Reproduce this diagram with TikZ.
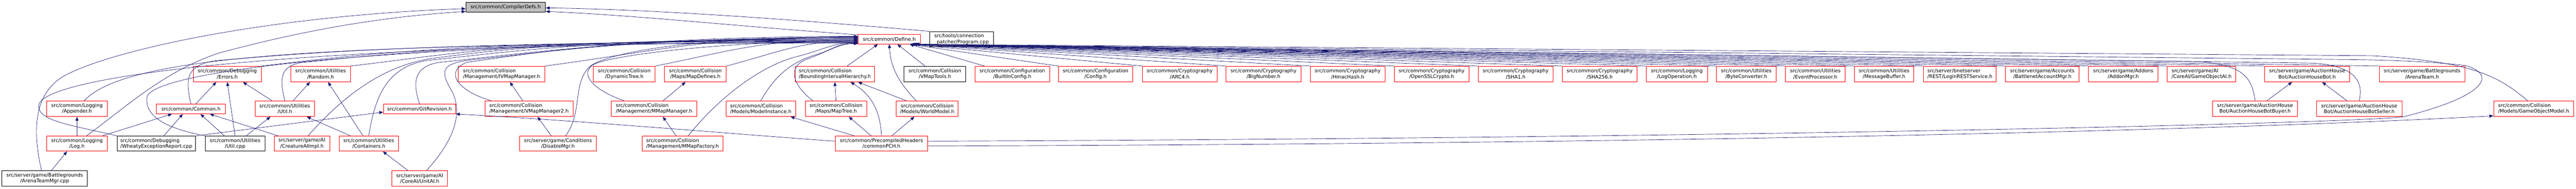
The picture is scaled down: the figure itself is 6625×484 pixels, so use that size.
\documentclass[tikz,border=0pt]{standalone}
\usepackage{fontspec}
\usetikzlibrary{arrows.meta}
\newfontfamily\graphfont{DejaVu Sans}
\definecolor{edgeblue}{RGB}{25,25,112}
\definecolor{rootgray}{RGB}{191,191,191}
\def\lbl{\graphfont\fontsize{12.7}{15}\selectfont}
\tikzset{
  cutfile/.style={draw=red, line width=1.1pt, inner sep=0pt, minimum height=40pt, font=\lbl, align=center},
  endfile/.style={cutfile, draw=black},
  rootfile/.style={endfile, fill=rootgray, minimum height=25pt},
  inc/.style={draw=edgeblue, line width=0.9pt, -{Triangle[length=10pt,width=8pt]}},
}
\begin{document}
\begin{tikzpicture}[x=1pt,y=-1pt]
%%%%% FRAME %%%%%
\path[fill=white, use as bounding box] (0,0) rectangle (6625,484);

%%%%% ROW 0 AND 1 %%%%%
\node[rootfile, minimum width=205pt] (cd) at (1300.5,18.5) {src/common/CompilerDefs.h};
\node[cutfile, minimum width=160pt, minimum height=25pt] (def) at (2287,100.5) {src/common/Define.h};
\node[endfile, minimum width=164pt, minimum height=39pt, align=left] (prog) at (2473,100.5) {src/tools/connection\\\_patcher/Program.cpp};

%%%%% ROW 2 %%%%%
\node[cutfile, minimum width=175pt] (errors) at (584.5,190) {src/common/Debugging\\/Errors.h};
\node[cutfile, minimum width=153pt] (random) at (824.5,190) {src/common/Utilities\\/Random.h};
\node[cutfile, minimum width=222pt, align=left] (ivmap) at (1290,190) {src/common/Collision\\/Management/IVMapManager.h};
\node[cutfile, minimum width=159pt] (dyntree) at (1605.5,190) {src/common/Collision\\/DynamicTree.h};
\node[cutfile, minimum width=159pt] (mapdef) at (1788.5,190) {src/common/Collision\\/Maps/MapDefines.h};
\node[cutfile, minimum width=204pt, align=left] (bih) at (2147,190) {src/common/Collision\\/BoundingIntervalHierarchy.h};
\node[endfile, minimum width=159pt] (vmaptools) at (2404.5,190) {src/common/Collision\\/VMapTools.h};
\node[cutfile, minimum width=191pt] (builtin) at (2603.5,190) {src/common/Configuration\\/BuiltInConfig.h};
\node[cutfile, minimum width=191pt] (config) at (2817.5,190) {src/common/Configuration\\/Config.h};
\node[cutfile, minimum width=192pt] (arc4) at (3034,190) {src/common/Cryptography\\/ARC4.h};
\node[cutfile, minimum width=193pt] (bignum) at (3249.5,190) {src/common/Cryptography\\/BigNumber.h};
\node[cutfile, minimum width=192pt] (hmac) at (3466,190) {src/common/Cryptography\\/HmacHash.h};
\node[cutfile, minimum width=192pt] (openssl) at (3682,190) {src/common/Cryptography\\/OpenSSLCrypto.h};
\node[cutfile, minimum width=192pt] (sha1) at (3898,190) {src/common/Cryptography\\/SHA1.h};
\node[cutfile, minimum width=192pt] (sha256) at (4114,190) {src/common/Cryptography\\/SHA256.h};
\node[cutfile, minimum width=157pt] (logop) at (4312.5,190) {src/common/Logging\\/LogOperation.h};
\node[cutfile, minimum width=154pt] (byteconv) at (4491,190) {src/common/Utilities\\/ByteConverter.h};
\node[cutfile, minimum width=153pt] (eventproc) at (4668.5,190) {src/common/Utilities\\/EventProcessor.h};
\node[cutfile, minimum width=153pt] (msgbuf) at (4845.5,190) {src/common/Utilities\\/MessageBuffer.h};
\node[cutfile, minimum width=187pt, align=left] (loginrest) at (5040.5,190) {src/server/bnetserver\\/REST/LoginRESTService.h};
\node[cutfile, minimum width=189pt] (bnetacc) at (5252.5,190) {src/server/game/Accounts\\/BattlenetAccountMgr.h};
\node[cutfile, minimum width=179pt] (addon) at (5460.5,190) {src/server/game/Addons\\/AddonMgr.h};
\node[cutfile, minimum width=176pt, align=left] (goai) at (5662,190) {src/server/game/AI\\/CoreAI/GameObjectAI.h};
\node[cutfile, minimum width=219pt] (ahbot) at (5933.5,190) {src/server/game/AuctionHouse\\Bot/AuctionHouseBot.h};
\node[cutfile, minimum width=220pt] (arenateam) at (6229,190) {src/server/game/Battlegrounds\\/ArenaTeam.h};

%%%%% ROW 3 %%%%%
\node[cutfile, minimum width=156pt] (appender) at (198,279) {src/common/Logging\\/Appender.h};
\node[cutfile, minimum width=178pt, minimum height=25pt] (common) at (491,279.5) {src/common/Common.h};
\node[cutfile, minimum width=153pt] (utilh) at (732.5,279) {src/common/Utilities\\/Util.h};
\node[cutfile, minimum width=186pt, minimum height=25pt] (gitrev) at (1079,279.5) {src/common/GitRevision.h};
\node[cutfile, minimum width=227pt, align=left] (vmap2) at (1360.5,279) {src/common/Collision\\/Management/VMapManager2.h};
\node[cutfile, minimum width=220pt, align=left] (mmapmgr) at (1682,279) {src/common/Collision\\/Management/MMapManager.h};
\node[cutfile, minimum width=179pt, align=left] (modelinst) at (1956.5,279) {src/common/Collision\\/Models/ModelInstance.h};
\node[cutfile, minimum width=158pt] (maptree) at (2150,279) {src/common/Collision\\/Maps/MapTree.h};
\node[cutfile, minimum width=159pt] (worldmodel) at (2384.5,279) {src/common/Collision\\/Models/WorldModel.h};
\node[cutfile, minimum width=219pt] (ahbuyer) at (5799.5,279) {src/server/game/AuctionHouse\\Bot/AuctionHouseBotBuyer.h};
\node[cutfile, minimum width=219pt] (ahseller) at (6067.5,279) {src/server/game/AuctionHouse\\Bot/AuctionHouseBotSeller.h};
\node[cutfile, minimum width=206pt, align=left] (gomodel) at (6516,279) {src/common/Collision\\/Models/GameObjectModel.h};

%%%%% ROW 4 %%%%%
\node[cutfile, minimum width=156pt, minimum height=39pt] (log) at (198,368.5) {src/common/Logging\\/Log.h};
\node[endfile, minimum width=202pt, minimum height=39pt, align=left] (wheaty) at (402,368.5) {src/common/Debugging\\/WheatyExceptionReport.cpp};
\node[endfile, minimum width=153pt, minimum height=39pt] (utilcpp) at (604.5,368.5) {src/common/Utilities\\/Util.cpp};
\node[cutfile, minimum width=143pt, minimum height=39pt] (creatureai) at (776.5,368.5) {src/server/game/AI\\/CreatureAIImpl.h};
\node[cutfile, minimum width=153pt, minimum height=39pt] (containers) at (948.5,368.5) {src/common/Utilities\\/Containers.h};
\node[cutfile, minimum width=198pt, minimum height=39pt] (disable) at (1435,368.5) {src/server/game/Conditions\\/DisableMgr.h};
\node[cutfile, minimum width=209pt, minimum height=39pt, align=left] (mmapfac) at (1755.5,368.5) {src/common/Collision\\/Management/MMapFactory.h};
\node[cutfile, minimum width=238pt, minimum height=39pt] (pch) at (2267,368.5) {src/common/PrecompiledHeaders\\/commonPCH.h};

%%%%% ROW 5 %%%%%
\node[endfile, minimum width=220pt] (arenamgr) at (115,458) {src/server/game/Battlegrounds\\/ArenaTeamMgr.cpp};
\node[cutfile, minimum width=143pt] (unitai) at (1079.5,458) {src/server/game/AI\\/CoreAI/UnitAI.h};

%%%%% INTO THE ROOT %%%%%
\draw[inc] (arenamgr.112) .. controls (82,330) and (88,235) .. (170,192) .. controls (300,125) and (700,40) .. (cd.182);
\draw[inc] (log.39) .. controls (330,270) and (420,185) .. (560,137) .. controls (800,72) and (1000,42) .. (cd.186);
\draw[inc] (def.172) .. controls (1900,68) and (1650,40) .. (cd.-6);
\draw[inc] (prog.north west) .. controls (2100,55) and (1700,24) .. (cd.-1);

%%%%% INTO DEFINE.H FROM THE LEFT %%%%%
\draw[inc] (appender.48) .. controls (330,135) and +(-1300,0) .. (def.187);
\draw[inc] (wheaty.north west) .. controls (180,320) and (95,310) .. (100,270) .. controls (105,200) and +(-1500,0) .. (def.186);
\draw[inc] (utilcpp.north west) .. controls (430,330) and (372,300) .. (378,250) .. controls (383,190) and +(-1300,0) .. (def.185);
\draw[inc] (common.north) .. controls (475,200) and (480,165) .. (560,155) .. controls (700,145) and +(-1200,0) .. (def.184);
\draw[inc] (errors.north east) .. controls +(300,-35) and +(-1000,0) .. (def.183);
\draw[inc] (utilh.north) .. controls (718,200) and (720,168) .. (780,160) .. controls (900,150) and +(-1000,0) .. (def.182);
\draw[inc] (random.north east) .. controls +(300,-35) and +(-900,0) .. (def.181);
\draw[inc] (creatureai.52) .. controls (880,250) and (980,170) .. (1110,150) .. controls (1300,125) and +(-700,0) .. (def.180);
\draw[inc] (containers.north) .. controls (965,240) and (1000,170) .. (1100,155) .. controls (1300,135) and +(-700,0) .. (def.179);
\draw[inc] (unitai.50) .. controls (1150,380) and (1200,300) .. (1160,230) .. controls (1130,180) and (1140,165) .. (1200,155) .. controls (1400,135) and +(-600,0) .. (def.178);
\draw[inc] (gitrev.north) .. controls (1060,210) and (1065,170) .. (1130,160) .. controls (1330,140) and +(-600,0) .. (def.177);
\draw[inc] (ivmap.north east) .. controls +(300,-40) and +(-400,0) .. (def.176);
\draw[inc] (vmap2.168) .. controls (1180,235) and (1140,185) .. (1200,160) .. controls (1350,140) and +(-600,0) .. (def.175);
\draw[inc] (disable.46) .. controls (1500,290) and (1470,210) .. (1520,168) .. controls (1580,130) and +(-400,0) .. (def.176);
\draw[inc] (dyntree.north east) .. controls +(200,-40) and +(-250,0) .. (def.181);
\draw[inc] (mmapmgr.165) .. controls (1520,230) and (1480,180) .. (1540,160) .. controls (1620,135) and +(-300,0) .. (def.183);
\draw[inc] (mapdef.north east) .. controls +(150,-40) and +(-150,0) .. (def.184);
\draw[inc] (mmapfac.54) .. controls (1840,260) and (1950,170) .. (2050,145) .. controls (2110,130) and +(-60,0) .. (def.186);
\draw[inc] (modelinst.north) .. controls (1990,200) and (2030,160) .. (2100,140) .. controls (2140,128) and +(-50,0) .. (def.187);
\draw[inc] (maptree.161) .. controls (2040,220) and (2020,170) .. (2080,150) .. controls (2130,132) and +(-50,0) .. (def.188);

%%%%% INTO DEFINE.H FROM BELOW AND THE RIGHT %%%%%
\draw[inc] (bih.33) -- (def.-156);
\draw[inc] (worldmodel.144) .. controls (2300,200) and (2290,160) .. (def.south);
\draw[inc] (vmaptools.141) -- (def.-32);
\draw[inc] (builtin.164) -- (def.-14);
\draw[inc] (config.north west) -- (def.-14);
\draw[inc] (arc4.north west) -- (def.-14);
\draw[inc] (bignum.north west) -- (def.-13);
\draw[inc] (hmac.north west) -- (def.-13);
\draw[inc] (openssl.north west) -- (def.-13);
\draw[inc] (sha1.north west) -- (def.-13);
\draw[inc] (sha256.north west) -- (def.-12);
\draw[inc] (logop.north west) -- (def.-12);
\draw[inc] (byteconv.north west) -- (def.-12);
\draw[inc] (eventproc.north west) -- (def.-12);
\draw[inc] (msgbuf.north west) -- (def.-12);
\draw[inc] (loginrest.north west) -- (def.-12);
\draw[inc] (bnetacc.north west) -- (def.-11);
\draw[inc] (addon.north west) -- (def.-11);
\draw[inc] (goai.north west) -- (def.-11);
\draw[inc] (ahbot.north west) -- (def.-11);
\draw[inc] (arenateam.north west) -- (def.-11);
\draw[inc] (ahbuyer.north) .. controls (5792,200) and (5770,165) .. (5650,158) -- (def.-12);
\draw[inc] (ahseller.north) .. controls (6078,210) and (6060,170) .. (5950,162) -- (def.-12);
\draw[inc] (gomodel.127) .. controls (6420,190) and (6350,158) .. (6100,143) -- (def.-11);
\draw[inc] (pch.3) .. controls (4400,355) and (6000,318) .. (6180,300) .. controls (6400,245) and (6420,190) .. (6340,168) .. controls (6250,158) and (6150,154) .. (6050,153) -- (def.-11);

%%%%% THE REST %%%%%
\draw[inc] (pch.-3) .. controls (4500,368) and (5800,330) .. (gomodel.190);
\draw[inc] (log.north) -- (appender.south);
\draw[inc] (log.17) -- (common.-165);
\draw[inc] (arenamgr.50) -- (log.-142);
\draw[inc] (wheaty.46) -- (common.-148);
\draw[inc] (wheaty.north east) -- (gitrev.185);
\draw[inc] (utilcpp.144) -- (common.-28);
\draw[inc] (utilcpp.north) -- (errors.south);
\draw[inc] (utilcpp.35) -- (utilh.-151);
\draw[inc] (common.46) -- (errors.-144);
\draw[inc] (creatureai.162) -- (common.-15);
\draw[inc] (utilh.148) -- (errors.-27);
\draw[inc] (utilh.44) -- (random.-143);
\draw[inc] (containers.127) -- (random.-47);
\draw[inc] (containers.157) -- (utilh.-20);
\draw[inc] (unitai.146) -- (containers.-29);
\draw[inc] (vmap2.128) -- (ivmap.-44);
\draw[inc] (disable.131) -- (vmap2.-43);
\draw[inc] (mmapmgr.41) -- (mapdef.-141);
\draw[inc] (mmapfac.130) -- (mmapmgr.-42);
\draw[inc] (maptree.north) -- (bih.south);
\draw[inc] (worldmodel.159) -- (bih.-19);
\draw[inc] (pch.north) .. controls (2264,290) and (2245,245) .. (bih.-27);
\draw[inc] (pch.37) -- (worldmodel.-148);
\draw[inc] (pch.143) -- (maptree.-32);
\draw[inc] (pch.164) -- (modelinst.-15);
\draw[inc] (pch.177) .. controls (1900,345) and (1500,310) .. (gitrev.south east);
\draw[inc] (ahbuyer.34) -- (ahbot.-152);
\draw[inc] (ahseller.147) -- (ahbot.-28);
\end{tikzpicture}
\end{document}
